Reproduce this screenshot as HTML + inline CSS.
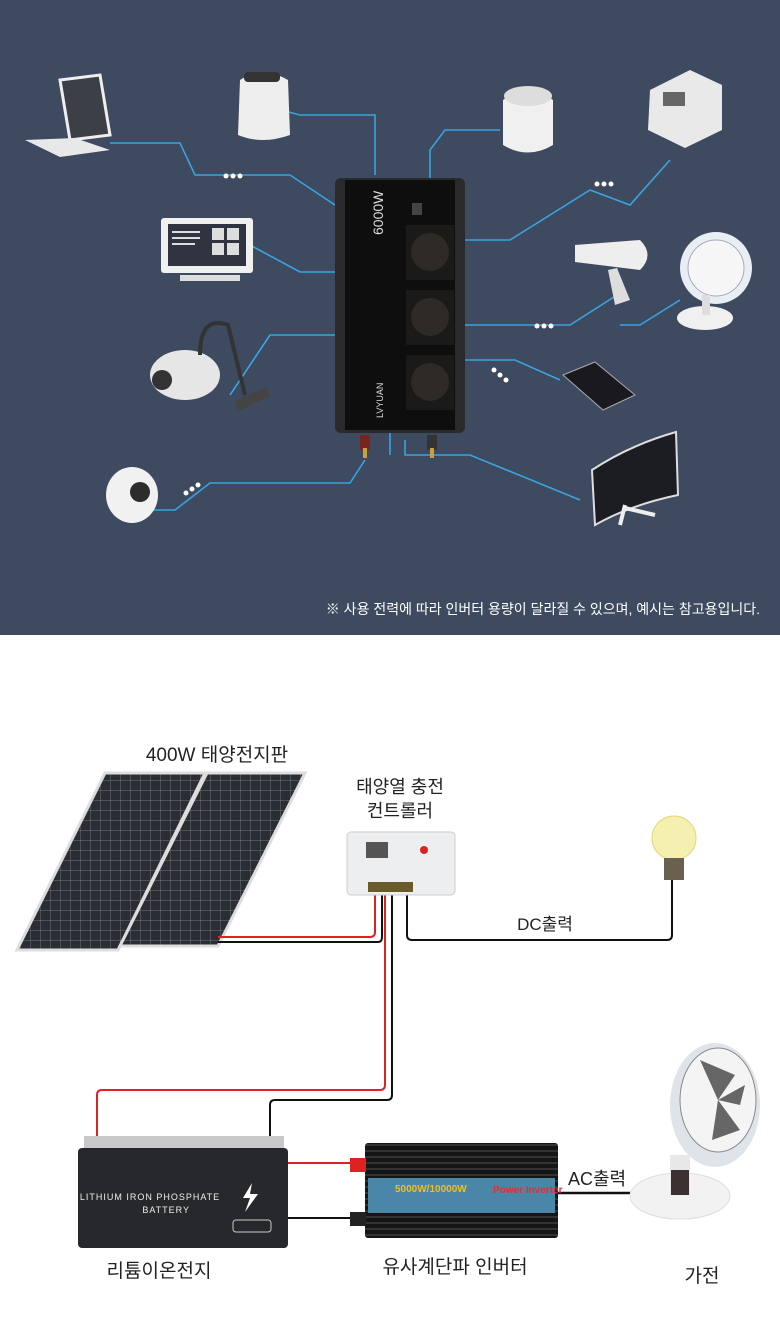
<!DOCTYPE html>
<html><head><meta charset="utf-8"><style>
html,body{margin:0;padding:0;background:#fff}
svg{display:block}
text{font-family:"Liberation Sans","Noto Sans CJK KR",sans-serif}
</style></head><body>
<svg width="780" height="1335" viewBox="0 0 780 1335" xmlns="http://www.w3.org/2000/svg">
<defs>
<pattern id="cells" width="10" height="10" patternUnits="userSpaceOnUse">
<rect width="10" height="10" fill="#2a2d33"/><path d="M0 0H10M0 0V10" stroke="#8a8e96" stroke-width="0.7"/></pattern>
<pattern id="fins" width="8" height="6" patternUnits="userSpaceOnUse"><rect width="8" height="6" fill="#151515"/><rect y="4" width="8" height="2" fill="#333"/></pattern>
</defs>
<rect x="0" y="0" width="780" height="635" fill="#3e4a5f"/>
<g stroke="#3aa3e0" stroke-width="1.6" fill="none">
<path d="M110 143H180L195 175H290L335 205"/>
<path d="M250 245L300 272H335"/>
<path d="M230 395L270 335H335"/>
<path d="M150 510H175L210 483H350L365 460"/>
<path d="M262 105L300 115H375V175"/>
<path d="M500 130H445L430 150V178"/>
<path d="M670 160L630 205L590 190L510 240H465"/>
<path d="M625 290L570 325H465"/>
<path d="M560 380L515 360L495 360H465"/>
<path d="M680 300L640 325H620"/>
<path d="M580 500L470 455H405L405 440"/>
<path d="M390 430V455"/>
</g>
<g fill="#fff"><circle cx="226" cy="176" r="2.5"/><circle cx="233" cy="176" r="2.5"/><circle cx="240" cy="176" r="2.5"/>
<circle cx="186" cy="493" r="2.5"/><circle cx="192" cy="489" r="2.5"/><circle cx="198" cy="485" r="2.5"/>
<circle cx="597" cy="184" r="2.5"/><circle cx="604" cy="184" r="2.5"/><circle cx="611" cy="184" r="2.5"/>
<circle cx="537" cy="326" r="2.5"/><circle cx="544" cy="326" r="2.5"/><circle cx="551" cy="326" r="2.5"/>
<circle cx="494" cy="370" r="2.5"/><circle cx="500" cy="375" r="2.5"/><circle cx="506" cy="380" r="2.5"/></g>
<rect x="335" y="178" width="130" height="255" rx="6" fill="#2a2a2c"/>
<rect x="345" y="180" width="110" height="250" fill="#0e0e0f"/>
<rect x="406" y="225" width="48" height="55" fill="#1c1a18"/><circle cx="430" cy="252" r="19" fill="#2e2a26"/>
<rect x="406" y="290" width="48" height="55" fill="#1c1a18"/><circle cx="430" cy="317" r="19" fill="#2e2a26"/>
<rect x="406" y="355" width="48" height="55" fill="#1c1a18"/><circle cx="430" cy="382" r="19" fill="#2e2a26"/>
<rect x="412" y="203" width="10" height="12" fill="#444"/>
<text transform="translate(383,235) rotate(-90)" font-size="14" fill="#ddd">6000W</text>
<text transform="translate(383,418) rotate(-90)" font-size="9" fill="#ddd">LVYUAN</text>
<rect x="360" y="435" width="10" height="15" fill="#7a2420"/><rect x="363" y="448" width="4" height="10" fill="#c8a040"/>
<rect x="427" y="435" width="10" height="15" fill="#333"/><rect x="430" y="448" width="4" height="10" fill="#c8a040"/>
<g>
<path d="M60 80L100 75L110 135L70 140Z" fill="#3c3f45" stroke="#eee" stroke-width="3"/>
<path d="M25 140L75 138L110 150L60 157Z" fill="#e8e8ea"/>
<path d="M240 80Q262 65 288 80L290 135Q262 145 238 135Z" fill="#eeeeee"/><rect x="244" y="72" width="36" height="10" rx="4" fill="#333"/>
<rect x="161" y="218" width="92" height="55" rx="3" fill="#f0f0f0"/><rect x="168" y="224" width="78" height="42" fill="#2f3440"/>
<rect x="212" y="228" width="12" height="12" fill="#ddd"/><rect x="227" y="228" width="12" height="12" fill="#ddd"/><rect x="212" y="243" width="12" height="12" fill="#ddd"/><rect x="227" y="243" width="12" height="12" fill="#ddd"/>
<path d="M172 232H200M172 238H200M172 244H195" stroke="#ddd" stroke-width="2"/>
<rect x="180" y="275" width="60" height="6" fill="#ddd"/>
<ellipse cx="185" cy="375" rx="35" ry="25" fill="#e6e6e6"/><circle cx="162" cy="380" r="10" fill="#333"/>
<path d="M200 355Q200 315 228 325L245 395" stroke="#333" stroke-width="4" fill="none"/><rect x="235" y="395" width="35" height="10" fill="#444" transform="rotate(-25 250 400)"/>
<ellipse cx="132" cy="495" rx="26" ry="28" fill="#f1f1f1"/><circle cx="140" cy="492" r="10" fill="#2c2c2c"/>
<path d="M503 100Q528 82 553 100V145Q528 160 503 145Z" fill="#f0f0f0"/><ellipse cx="528" cy="96" rx="24" ry="10" fill="#ddd"/>
<path d="M650 90L690 70L722 85V130L685 148L648 130Z" fill="#e9e9e9"/><rect x="663" y="92" width="22" height="14" fill="#666"/>
<path d="M575 245L640 240Q655 255 640 270L575 262Z" fill="#eee"/><path d="M617 268L630 300L615 305L608 270Z" fill="#ddd"/>
<circle cx="716" cy="268" r="36" fill="#e8eef4"/><circle cx="716" cy="268" r="28" fill="#f6f6f6" stroke="#aab" stroke-width="1"/>
<ellipse cx="705" cy="318" rx="28" ry="12" fill="#f0f0f0"/><rect x="702" y="295" width="8" height="20" fill="#ddd"/>
<path d="M563 375L595 362L635 395L603 410Z" fill="#1a1a1e" stroke="#aaa" stroke-width="1"/>
<path d="M592 470Q630 445 676 432L678 495Q630 505 595 525Z" fill="#1c1d22" stroke="#ddd" stroke-width="2"/>
<path d="M625 505L620 525M625 508L655 515" stroke="#eee" stroke-width="4"/>
</g>
<text x="760" y="614" font-size="14" fill="#fff" text-anchor="end">※ 사용 전력에 따라 인버터 용량이 달라질 수 있으며, 예시는 참고용입니다.</text>

<text x="217" y="761" font-size="19" fill="#222" text-anchor="middle">400W 태양전지판</text>
<text x="400" y="793" font-size="18" fill="#222" text-anchor="middle">태양열 충전</text>
<text x="400" y="817" font-size="18" fill="#222" text-anchor="middle">컨트롤러</text>
<path d="M105 773H205L118 950H17Z" fill="url(#cells)" stroke="#ddd" stroke-width="3"/>
<path d="M207 773H305L218 946H120Z" fill="url(#cells)" stroke="#ddd" stroke-width="3"/>
<g fill="none" stroke-width="2">
<path d="M218 937H370Q375 937 375 932V895" stroke="#d22"/>
<path d="M218 942H378Q382 942 382 937V895" stroke="#111"/>
<path d="M385 895V1085Q385 1090 380 1090H102Q97 1090 97 1095V1140" stroke="#d22"/>
<path d="M392 895V1095Q392 1100 387 1100H275Q270 1100 270 1105V1140" stroke="#111"/>
<path d="M407 895V935Q407 940 412 940H667Q672 940 672 935V880" stroke="#111"/>
<path d="M288 1163H355" stroke="#d22"/>
<path d="M288 1218H355" stroke="#111"/>
<path d="M558 1193H630" stroke="#111" stroke-width="2.5"/>
</g>
<rect x="347" y="832" width="108" height="63" rx="4" fill="#eceef0" stroke="#ccc"/>
<rect x="366" y="842" width="22" height="16" fill="#555"/><circle cx="424" cy="850" r="4" fill="#d22"/>
<rect x="368" y="882" width="45" height="10" fill="#6b5a2a"/>
<circle cx="674" cy="838" r="22" fill="#f6f0b0" stroke="#e3d67a"/>
<rect x="664" y="858" width="20" height="22" fill="#6a6050"/>
<text x="545" y="930" font-size="17" fill="#222" text-anchor="middle">DC출력</text>
<rect x="84" y="1136" width="200" height="14" fill="#c9c9c9"/>
<rect x="78" y="1148" width="210" height="100" rx="4" fill="#27282b"/>
<text x="150" y="1200" font-size="9" fill="#eee" text-anchor="middle" letter-spacing="1">LITHIUM IRON PHOSPHATE</text>
<text x="190" y="1213" font-size="9" fill="#eee" text-anchor="end" letter-spacing="1">BATTERY</text>
<path d="M252 1183L243 1198H250L245 1212L258 1194H250Z" fill="#fff"/>
<rect x="233" y="1220" width="38" height="12" rx="3" fill="none" stroke="#ccc"/>
<rect x="365" y="1143" width="193" height="95" rx="3" fill="url(#fins)"/>
<rect x="368" y="1178" width="187" height="35" fill="#4a86a8"/>
<text x="395" y="1192" font-size="10" fill="#f0c020" font-weight="bold">5000W/10000W</text>
<text x="493" y="1193" font-size="10" fill="#e03030" font-weight="bold">Power Inverter</text>
<rect x="350" y="1158" width="16" height="14" fill="#d22"/><rect x="350" y="1212" width="16" height="14" fill="#222"/>
<text x="597" y="1185" font-size="18" fill="#222" text-anchor="middle">AC출력</text>
<ellipse cx="680" cy="1196" rx="50" ry="23" fill="#f2f2f2" stroke="#ddd"/>
<rect x="670" y="1155" width="20" height="40" fill="#e8e8e8"/><rect x="671" y="1170" width="18" height="25" fill="#3b3030"/>
<ellipse cx="715" cy="1105" rx="45" ry="62" fill="#dfe4ea"/>
<ellipse cx="718" cy="1100" rx="38" ry="52" fill="#f4f4f4" stroke="#888" stroke-width="1"/>
<path d="M718 1100L700 1060L735 1075ZM718 1100L740 1130L712 1140ZM718 1100L745 1085L740 1105Z" fill="#666"/>
<text x="159" y="1277" font-size="19" fill="#222" text-anchor="middle">리튬이온전지</text>
<text x="455" y="1273" font-size="19" fill="#222" text-anchor="middle">유사계단파 인버터</text>
<text x="702" y="1282" font-size="19" fill="#222" text-anchor="middle">가전</text>
</svg>
</body></html>
